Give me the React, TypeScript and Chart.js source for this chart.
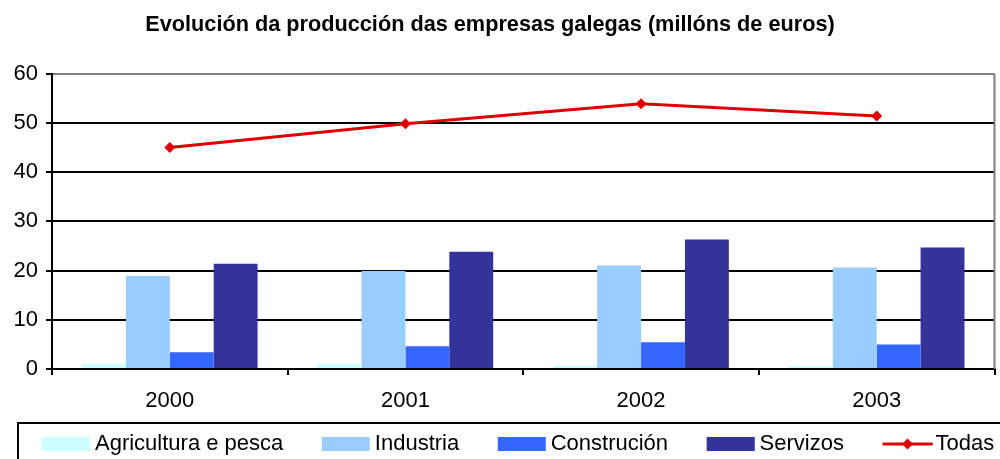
import React, { useEffect, useRef } from "react";
import { Chart, registerables } from "chart.js";

Chart.register(...registerables);

const years = ["2000", "2001", "2002", "2003"];
const agricultura = [1.0, 1.0, 0.6, 0.55];
const industria = [18.9, 19.9, 21.0, 20.6];
const construcion = [3.4, 4.6, 5.45, 5.0];
const servizos = [21.4, 23.8, 26.3, 24.7];
const todas = [45.0, 49.8, 53.9, 51.4];
const yTicks = [0, 10, 20, 30, 40, 50, 60];

const FONT = "'Liberation Sans', Arial, sans-serif";
const RED = "#DD0000";

// legend swatch slot width (pointStyleWidth)
const SLOT = 80.5;

function makeBoxSwatch(color: string): HTMLCanvasElement {
  const w = 2 * (SLOT / 2 + 6);
  const c = document.createElement("canvas");
  c.width = Math.ceil(w);
  c.height = 14;
  const ctx = c.getContext("2d")!;
  ctx.fillStyle = color;
  ctx.fillRect(c.width / 2 + SLOT / 2 + 6 - 48, 0, 48, 14);
  return c;
}

function makeLineSwatch(): HTMLCanvasElement {
  const w = 2 * (SLOT / 2 + 8);
  const c = document.createElement("canvas");
  c.width = Math.ceil(w);
  c.height = 14;
  const ctx = c.getContext("2d")!;
  const end = c.width / 2 + SLOT / 2 + 8;
  const start = end - 50;
  ctx.strokeStyle = RED;
  ctx.lineWidth = 3;
  ctx.beginPath();
  ctx.moveTo(start, 7);
  ctx.lineTo(end, 7);
  ctx.stroke();
  const cx = start + 25;
  ctx.fillStyle = RED;
  ctx.beginPath();
  ctx.moveTo(cx, 1.5);
  ctx.lineTo(cx + 5.5, 7);
  ctx.lineTo(cx, 12.5);
  ctx.lineTo(cx - 5.5, 7);
  ctx.closePath();
  ctx.fill();
  return c;
}

export default function App() {
  const ref = useRef<HTMLCanvasElement>(null);
  useEffect(() => {
    const lineSwatch = makeLineSwatch();
    const framePlugin = {
      id: "frame",
      afterLayout(chart: any) {
        const lg = chart.legend;
        if (lg) {
          const w = lg.right - lg.left;
          lg.left = 84 - SLOT;
          lg.right = lg.left + w;
        }
      },
      afterDraw(chart: any) {
        const { ctx, chartArea } = chart;
        ctx.save();
        ctx.strokeStyle = "#808080";
        ctx.lineWidth = 2;
        ctx.beginPath();
        ctx.moveTo(chartArea.right, chartArea.top);
        ctx.lineTo(chartArea.right, chartArea.bottom);
        ctx.stroke();
        const lg = chart.legend;
        ctx.strokeStyle = "#000";
        ctx.lineWidth = 2;
        ctx.strokeRect(18, lg.top - 10, 1100, 200);
        ctx.restore();
      },
    };
    const chart = new Chart(ref.current!, {
      type: "bar",
      data: {
        labels: years,
        datasets: [
          { type: "line", label: "Todas", data: todas, borderColor: RED, backgroundColor: RED, borderWidth: 3, pointStyle: "rectRot", pointRadius: 5.5, pointBackgroundColor: RED, pointBorderColor: RED, pointBorderWidth: 0, order: 0, tension: 0 } as any,
          { label: "Agricultura e pesca", data: agricultura, backgroundColor: "#CCFFFF", order: 1 },
          { label: "Industria", data: industria, backgroundColor: "#99CCFF", order: 1 },
          { label: "Construción", data: construcion, backgroundColor: "#3366FF", order: 1 },
          { label: "Servizos", data: servizos, backgroundColor: "#333399", order: 1 },
        ],
      },
      options: {
        animation: false,
        responsive: false,
        maintainAspectRatio: false,
        datasets: { bar: { categoryPercentage: 0.745, barPercentage: 1 } },
        layout: { padding: { left: -18, right: 2, top: 0, bottom: -6 } },
        plugins: {
          tooltip: { enabled: false },
          title: {
            display: true,
            text: "Evolución da producción das empresas galegas (millóns de euros)",
            color: "#000",
            font: { family: FONT, size: 21.7, weight: "bold" },
            padding: { top: 12, bottom: 35.6 },
          },
          legend: {
            position: "bottom",
            align: "start",
            labels: {
              color: "#000",
              font: { family: FONT, size: 22 },
              boxWidth: SLOT,
              boxHeight: 14,
              padding: 0,
              usePointStyle: true,
              pointStyleWidth: SLOT,
              generateLabels(chart: any) {
                const items = Chart.defaults.plugins.legend.labels.generateLabels(chart);
                const out = items.map((it: any) => {
                  if (it.text === "Todas") {
                    return { ...it, pointStyle: lineSwatch, lineWidth: 0 };
                  }
                  return { ...it, pointStyle: makeBoxSwatch(it.fillStyle), lineWidth: 0 };
                });
                const first = out.shift();
                out.push(first);
                return out;
              },
            },
          },
        },
        scales: {
          x: {
            afterFit(scale: any) {
              scale.height = 64;
              scale.paddingLeft = 0;
              scale.paddingRight = 0;
            },
            grid: { display: true, drawOnChartArea: false, drawTicks: true, tickLength: 6, color: "#000", lineWidth: 2, offset: true },
            border: { display: true, color: "#000", width: 2 },
            ticks: { color: "#000", font: { family: FONT, size: 22 }, padding: 13 },
          },
          y: {
            min: 0,
            max: 60,
            afterFit(scale: any) {
              scale.width = 70;
              scale.paddingLeft = 0;
              scale.paddingRight = 0;
            },
            afterBuildTicks(scale: any) {
              scale.ticks = yTicks.map((v) => ({ value: v }));
            },
            grid: {
              color: (c: any) => (c.tick && c.tick.value === 60 ? "#808080" : "#000"),
              lineWidth: 2,
              drawTicks: true,
              tickLength: 6,
              tickColor: "#000",
            },
            border: { display: true, color: "#000", width: 2 },
            ticks: { color: "#000", font: { family: FONT, size: 22 }, padding: 8 },
          },
        },
      },
      plugins: [framePlugin],
    });
    return () => chart.destroy();
  }, []);
  return (
    <div style={{ position: "absolute", left: 0, top: 0, width: 1000, height: 459, background: "#fff" }}>
      <canvas ref={ref} width={1000} height={459} />
    </div>
  );
}
